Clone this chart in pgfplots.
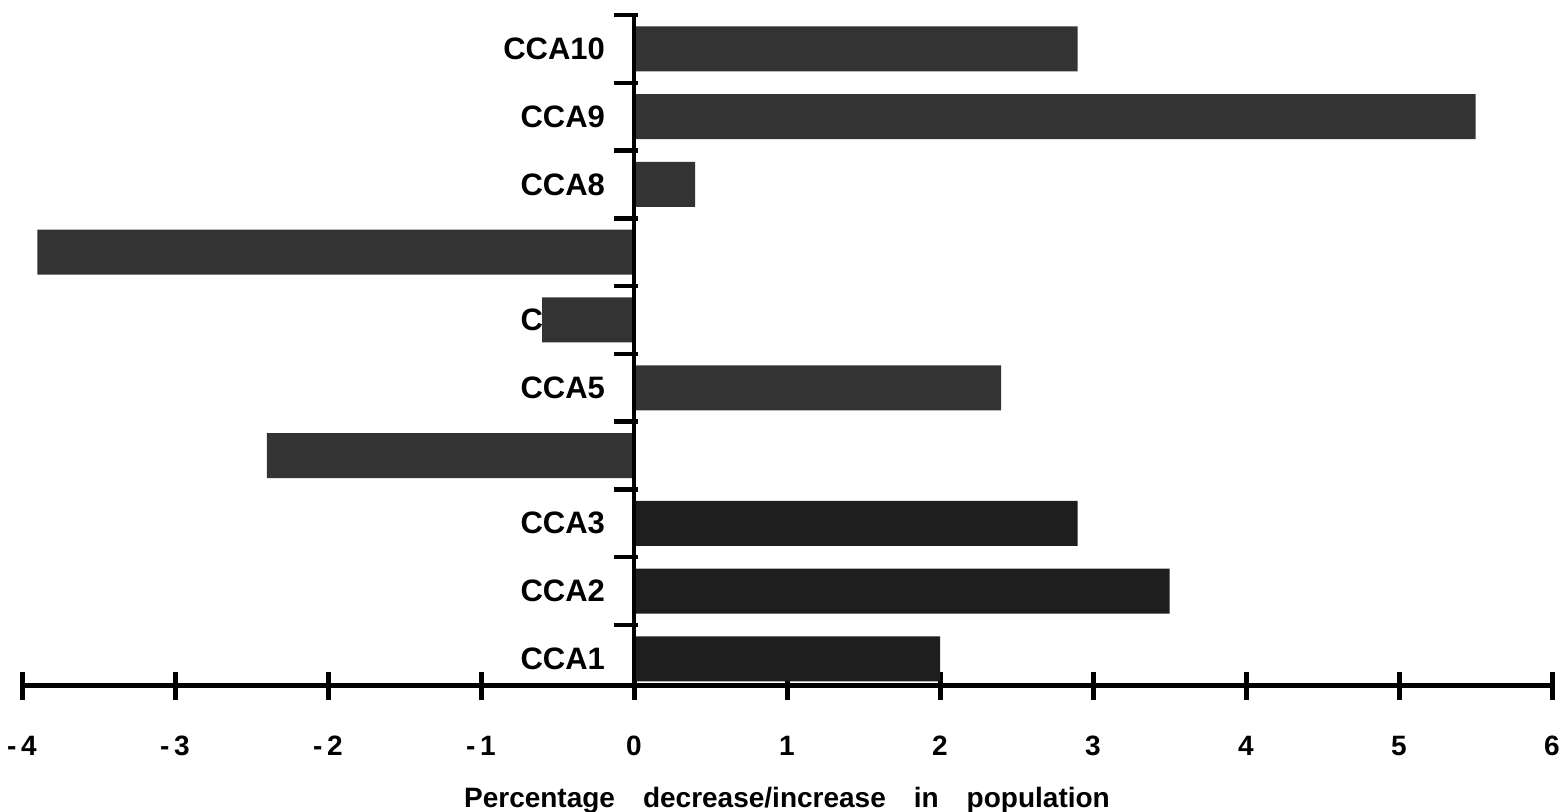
\documentclass[border=0pt]{standalone}
\usepackage{fontspec}
\setmainfont{Liberation Sans}
\usepackage{pgfplots}
\pgfplotsset{compat=1.18}
\definecolor{barlight}{HTML}{333333}
\definecolor{bardark}{HTML}{1E1E1E}
\begin{document}
\begin{tikzpicture}
\begin{axis}[
  set layers=standard,
  scale only axis,
  width=765pt, height=335.5pt,
  xmin=-4, xmax=6, ymin=0.6, ymax=10.5,
  axis x line=bottom, axis y line=center,
  axis line style={-, black},
  x axis line style={line width=2.5pt},
  y axis line style={line width=2pt},
  hide obscured x ticks=false, hide obscured y ticks=false,
  xtick={-4,...,6},
  xticklabels={{-\,4},{-\,3},{-\,2},{-\,1},0,1,2,3,4,5,6},
  xtick align=center,
  major tick length=14pt,
  every major x tick/.style={line width=2.5pt, black},
  ytick={1,...,10},
  yticklabels={CCA1,CCA2,CCA3,CCA4,CCA5,CCA6,CCA7,CCA8,CCA9,CCA10},
  every major y tick/.style={draw=none},
  minor ytick={1.5,2.5,...,10.5},
  minor tick length=12pt,
  every minor y tick/.style={line width=2.2pt, black, xshift=2pt},
  ytick align=center,
  xticklabel style={font=\fontsize{14}{16}\selectfont\bfseries, yshift=-14.5pt},
  yticklabel style={font=\fontsize{15.5}{18}\selectfont\bfseries, xshift=3pt},
  xlabel={Percentage\hspace{1em}decrease/increase\hspace{1em}in\hspace{1em}population},
  xlabel style={font=\fontsize{14}{16}\selectfont\bfseries, yshift=-9pt},
  xbar, bar shift=0pt, bar width=22.5pt,
]
\addplot[fill=barlight, draw=none] coordinates {(-2.4,4) (2.4,5) (-0.6,6) (-3.9,7) (0.4,8) (5.5,9) (2.9,10)};
\addplot[fill=bardark, draw=none] coordinates {(2.0,1) (3.5,2) (2.9,3)};
\begin{pgfonlayer}{axis foreground}
\draw[line width=2pt] (axis cs:0,0.6) -- (axis cs:0,10.5);
\end{pgfonlayer}
\end{axis}
\pgfresetboundingbox
\path ([xshift=-11pt,yshift=-63pt]current axis.south west) rectangle ([xshift=4.5pt,yshift=7.5pt]current axis.north east);
\end{tikzpicture}
\end{document}
